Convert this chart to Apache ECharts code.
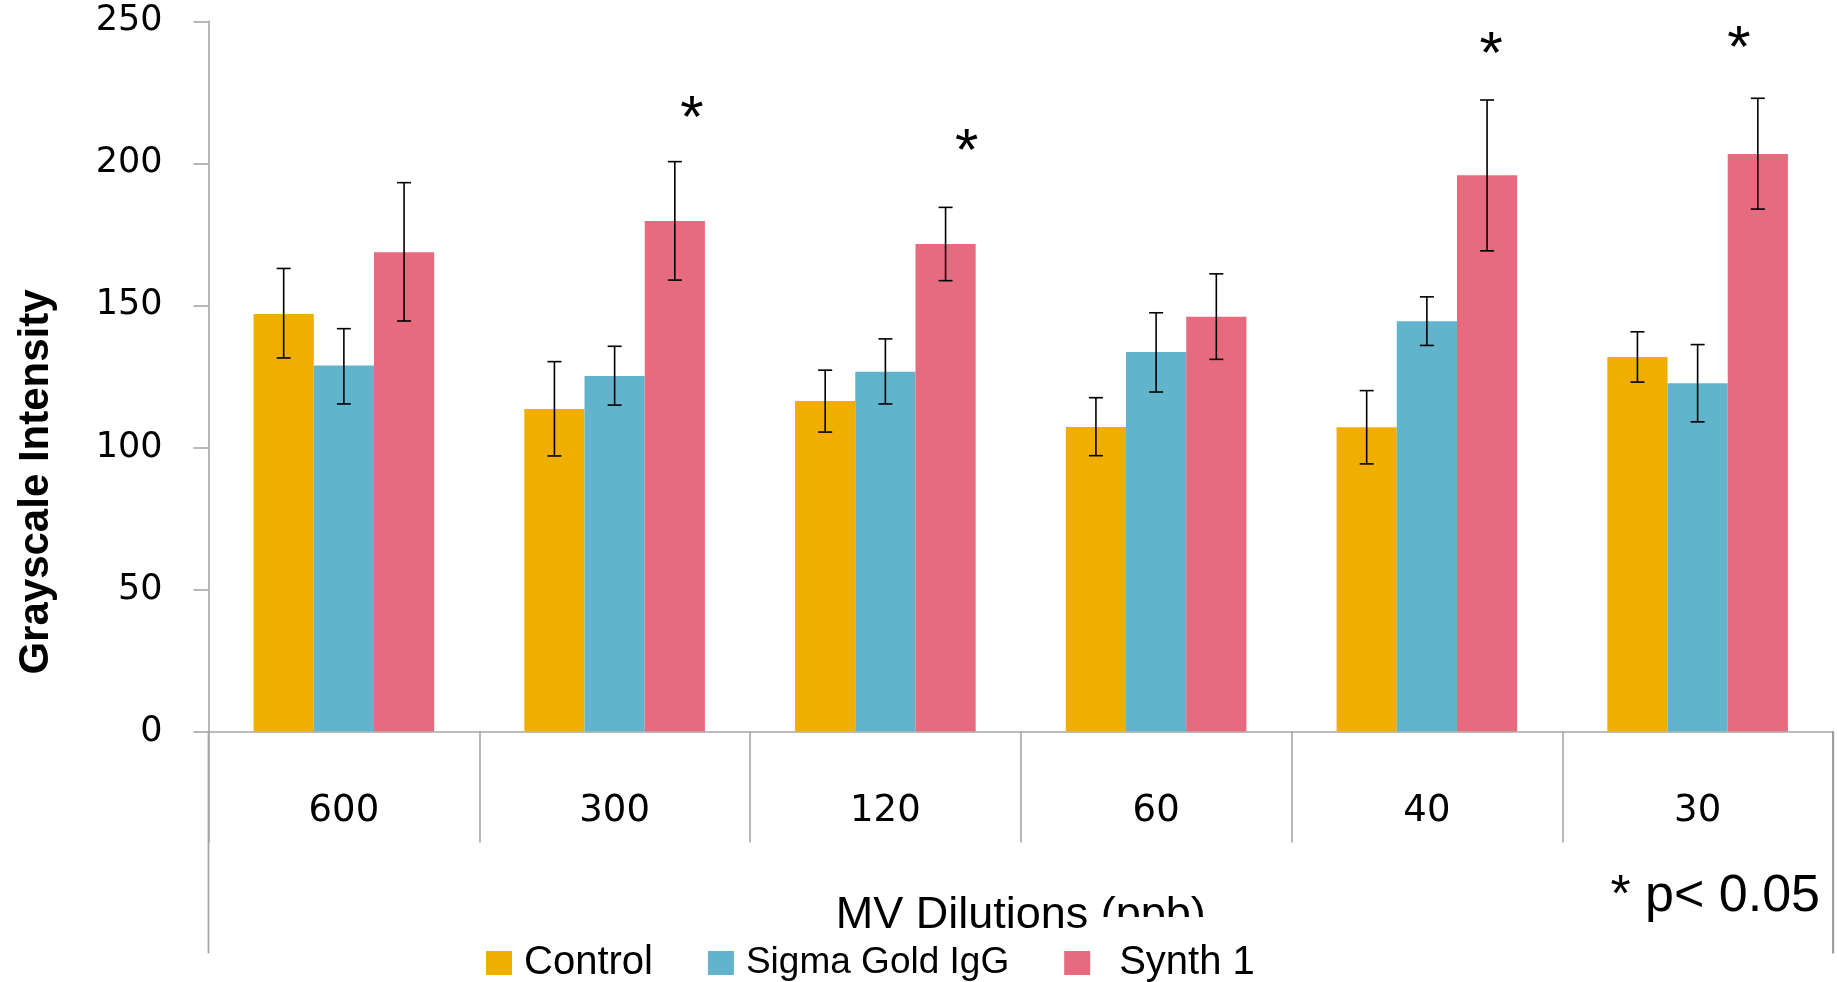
<!DOCTYPE html>
<html><head><meta charset="utf-8">
<script src="https://cdn.jsdelivr.net/npm/echarts@6/dist/echarts.min.js"></script>
<style>html,body{margin:0;padding:0;background:#fff;overflow:hidden;width:1837px;height:982px}#c{width:1837px;height:982px}</style>
</head><body><div id="c"></div>
<script>
const categories = ['600', '300', '120', '60', '40', '30'];
const seriesNames = ['Control', 'Sigma Gold IgG', 'Synth 1'];
const controlValues = [147.0, 113.5, 116.3, 107.2, 107.1, 131.8];
const controlHigh   = [163.0, 130.2, 127.2, 117.5, 120.0, 140.7];
const controlLow    = [131.5,  97.0, 105.4,  97.1,  94.2, 123.0];
const sigmaValues   = [128.8, 125.1, 126.6, 133.6, 144.4, 122.6];
const sigmaHigh     = [141.8, 135.6, 138.2, 147.4, 153.0, 136.2];
const sigmaLow      = [115.3, 114.9, 115.3, 119.5, 135.9, 109.0];
const synthValues   = [168.7, 179.7, 171.6, 146.0, 195.8, 203.3];
const synthHigh     = [193.2, 200.6, 184.5, 161.1, 222.3, 222.9];
const synthLow      = [144.5, 158.9, 158.7, 131.0, 169.2, 183.9];
const significanceMarks = [null, 218.8, 207.5, null, 241.6, 243.6];
const yTickValues = [0, 50, 100, 150, 200, 250];
const yAxisTitle = 'Grayscale Intensity';
const xAxisTitle = 'MV Dilutions (ppb)';
const footnote = '* p< 0.05';

const colors = ['#F0AE00', '#62B4CC', '#E76B7E'];
const GAP = 0.333;
const axisGray = '#A6A6A6';
// small horizontal nudges of the star glyphs (style)
const starNudge = [0, 17, 21, 0, 4, -19];

const chart = echarts.init(document.getElementById('c'), null, {renderer: 'canvas'});

function errorBarRenderer(k) {
  return function (params, api) {
    const i = api.value(0);
    const lo = api.coord([i, api.value(1)]);
    const hi = api.coord([i, api.value(2)]);
    const catW = api.size([1, 0])[0];
    const barW = catW * (1 - GAP) / 3;
    const x = lo[0] + k * barW;
    const cap = 7;
    const st = {stroke: '#000', lineWidth: 1.6};
    return {type: 'group', children: [
      {type: 'line', shape: {x1: x, y1: hi[1], x2: x, y2: lo[1]}, style: st},
      {type: 'line', shape: {x1: x - cap, y1: hi[1], x2: x + cap, y2: hi[1]}, style: st},
      {type: 'line', shape: {x1: x - cap, y1: lo[1], x2: x + cap, y2: lo[1]}, style: st}
    ]};
  };
}

function errData(low, high) {
  return categories.map((c, i) => [i, low[i], high[i]]);
}

const starData = [];
significanceMarks.forEach((v, i) => { if (v !== null) starData.push([i, v]); });

const option = {
  backgroundColor: '#fff',
  animation: false,
  grid: {left: 208.5, right: 4, top: 21.3, bottom: 250.5, containLabel: false},
  xAxis: {
    type: 'category',
    data: categories,
    boundaryGap: true,
    axisLine: {show: true, lineStyle: {color: axisGray, width: 1.6}},
    axisTick: {show: true, length: 111, alignWithLabel: false, lineStyle: {color: axisGray, width: 1.6}},
    axisLabel: {margin: 61, fontSize: 37, fontFamily: 'DejaVu Sans', color: '#000'},
    name: xAxisTitle,
    nameLocation: 'middle',
    nameGap: 162,
    nameTextStyle: {fontSize: 45, fontFamily: 'Liberation Sans', color: '#000'},
    splitLine: {show: false}
  },
  yAxis: {
    type: 'value',
    min: yTickValues[0],
    max: yTickValues[yTickValues.length - 1],
    interval: yTickValues[1] - yTickValues[0],
    axisLine: {show: true, lineStyle: {color: axisGray, width: 1.6}},
    axisTick: {show: true, inside: false, length: 15, lineStyle: {color: axisGray, width: 1.6}},
    axisLabel: {margin: 46, fontSize: 35, fontFamily: 'DejaVu Sans', color: '#000'},
    splitLine: {show: false}
  },
  legend: {
    left: 481,
    top: 938,
    z: 20,
    icon: 'rect',
    itemWidth: 26,
    itemHeight: 24,
    itemGap: 55,
    textStyle: {fontSize: 39, fontFamily: 'Liberation Sans', color: '#000', padding: [0, 0, 0, 7]},
    data: [
      {name: seriesNames[0], textStyle: {fontSize: 40}},
      {name: seriesNames[1], textStyle: {fontSize: 37}},
      {name: seriesNames[2], textStyle: {fontSize: 40, padding: [0, 0, 0, 24]}}
    ]
  },
  graphic: [
    {id: 'ytitle', type: 'text', x: 36, y: 482, rotation: Math.PI / 2, z: 5,
     style: {text: yAxisTitle, font: 'bold 42px "Liberation Sans"', fill: '#000', align: 'center', verticalAlign: 'middle'}},
    {id: 'cover', type: 'rect', z: 10, shape: {x: 1088, y: 917, width: 220, height: 65}, style: {fill: '#fff'}},
    {id: 'note', type: 'text', x: 1820, y: 897, z: 5,
     style: {text: footnote, font: '52px "Liberation Sans"', fill: '#000', align: 'right', verticalAlign: 'middle'}}
  ],
  series: [
    {name: seriesNames[0], type: 'bar', data: controlValues, barGap: '0%', barCategoryGap: (GAP * 100) + '%', itemStyle: {color: colors[0]}, z: 2},
    {name: seriesNames[1], type: 'bar', data: sigmaValues, barGap: '0%', barCategoryGap: (GAP * 100) + '%', itemStyle: {color: colors[1]}, z: 2},
    {name: seriesNames[2], type: 'bar', data: synthValues, barGap: '0%', barCategoryGap: (GAP * 100) + '%', itemStyle: {color: colors[2]}, z: 2},
    {type: 'custom', name: 'errControl', renderItem: errorBarRenderer(-1), data: errData(controlLow, controlHigh), encode: {x: 0, y: [1, 2]}, z: 5, silent: true},
    {type: 'custom', name: 'errSigma', renderItem: errorBarRenderer(0), data: errData(sigmaLow, sigmaHigh), encode: {x: 0, y: [1, 2]}, z: 5, silent: true},
    {type: 'custom', name: 'errSynth', renderItem: errorBarRenderer(1), data: errData(synthLow, synthHigh), encode: {x: 0, y: [1, 2]}, z: 5, silent: true},
    {type: 'custom', name: 'stars', silent: true, z: 5, clip: false,
     data: starData, encode: {x: 0, y: 1},
     renderItem: function (params, api) {
       const i = api.value(0);
       const p = api.coord([i, api.value(1)]);
       const barW = api.size([1, 0])[0] * (1 - GAP) / 3;
       return {type: 'text', x: p[0] + barW + starNudge[i], y: p[1] + 11,
         style: {text: '*', font: '60px "Liberation Sans"', fill: '#000', align: 'center', verticalAlign: 'middle'}};
     }}
  ]
};
chart.setOption(option);

// outer frame lines of the category band, located through the axes
const p0 = chart.convertToPixel({xAxisIndex: 0, yAxisIndex: 0}, [0, 0]);
const p5 = chart.convertToPixel({xAxisIndex: 0, yAxisIndex: 0}, [categories.length - 1, 0]);
const halfCat = (p5[0] - p0[0]) / (categories.length - 1) / 2;
const xl = p0[0] - halfCat;
const xr = p5[0] + halfCat;
chart.setOption({graphic: [
  {id: 'frameL', type: 'rect', z: 30, shape: {x: xl - 0.9, y: p0[1], width: 1.8, height: 222}, style: {fill: axisGray}},
  {id: 'frameR', type: 'rect', z: 30, shape: {x: xr - 1, y: p0[1], width: 2.2, height: 222}, style: {fill: '#9E9E9E'}}
]});
</script>
</body></html>
